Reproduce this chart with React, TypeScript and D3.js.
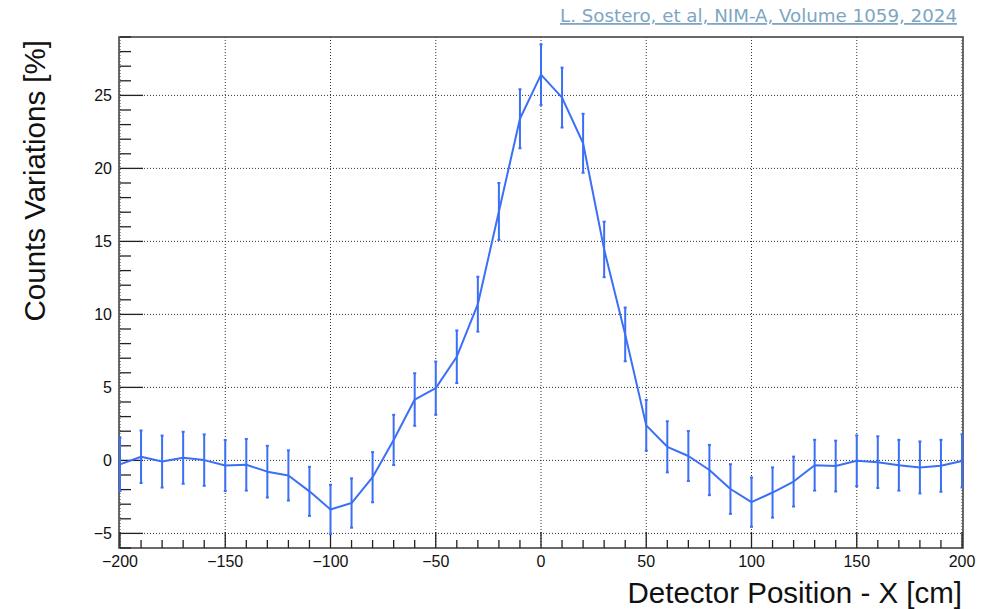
import React from "react";
import * as d3 from "d3";

// Detector position along X [cm]
const positions = [
  -200, -190, -180, -170, -160, -150, -140, -130, -120, -110, -100, -90, -80, -70, -60, -50, -40, -30, -20, -10,
  0, 10, 20, 30, 40, 50, 60, 70, 80, 90, 100, 110, 120, 130, 140, 150, 160, 170, 180, 190, 200,
];
// Counts variation [%]
const variations = [
  -0.27, 0.25, -0.08, 0.18, 0.02, -0.35, -0.3, -0.77, -1.03, -2.12, -3.36, -2.92, -1.15, 1.4, 4.17, 4.95, 7.1, 10.7, 17.05, 23.4,
  26.42, 24.85, 21.72, 14.45, 8.63, 2.4, 0.93, 0.3, -0.66, -1.96, -2.86, -2.2, -1.45, -0.33, -0.39, -0.03, -0.12, -0.33, -0.48, -0.37, -0.04,
];
// Uncertainty on each variation [%]
const errors = [
  1.83, 1.8, 1.78, 1.78, 1.76, 1.75, 1.77, 1.77, 1.72, 1.68, 1.69, 1.69, 1.72, 1.72, 1.8, 1.82, 1.8, 1.88, 1.95, 2.02,
  2.07, 2.05, 2.02, 1.9, 1.84, 1.74, 1.75, 1.71, 1.72, 1.7, 1.69, 1.72, 1.71, 1.74, 1.74, 1.74, 1.77, 1.74, 1.78, 1.78, 1.81,
];

const xMajorTicks = [-200, -150, -100, -50, 0, 50, 100, 150, 200];
const yMajorTicks = [-5, 0, 5, 10, 15, 20, 25];
const xDomain = [-200, 200];
const yDomain = [-6, 29];

const WIDTH = 992;
const HEIGHT = 609;
const frame = { left: 120, right: 962, top: 37, bottom: 548 };
const LINE_COLOR = "#3b6ff6";
const FONT = "'Liberation Sans', Arial, Helvetica, sans-serif";

export default function App() {
  const x = d3.scaleLinear().domain(xDomain).range([frame.left, frame.right]);
  const y = d3.scaleLinear().domain(yDomain).range([frame.bottom, frame.top]);

  const points = positions.map((p, i) => ({ p, v: variations[i], e: errors[i] }));
  const line = d3
    .line<{ p: number; v: number }>()
    .x((d) => x(d.p))
    .y((d) => y(d.v));

  const xMinor = d3.range(xDomain[0], xDomain[1] + 1, 10).filter((t) => t % 50 !== 0);
  const yMinor = d3.range(yDomain[0], yDomain[1] + 1, 1).filter((t) => t % 5 !== 0);

  return (
    <svg
      width={WIDTH}
      height={HEIGHT}
      style={{ position: "absolute", left: 0, top: 0, background: "#fff" }}
    >
      {/* citation */}
      <text
        x={957}
        y={22}
        textAnchor="end"
        fill="#7ea6c2"
        fontFamily="'DejaVu Sans Condensed', 'DejaVu Sans', sans-serif"
        fontSize={18}
        textDecoration="underline"
        textLength={397}
        lengthAdjust="spacingAndGlyphs"
      >
        L. Sostero, et al, NIM-A, Volume 1059, 2024
      </text>

      {/* grid */}
      <g stroke="#333" strokeWidth={1} strokeDasharray="1,2">
        {xMajorTicks.map((t) => (
          <line key={"gx" + t} x1={x(t)} x2={x(t)} y1={frame.top} y2={frame.bottom} />
        ))}
        {yMajorTicks.map((t) => (
          <line key={"gy" + t} x1={frame.left} x2={frame.right} y1={y(t)} y2={y(t)} />
        ))}
      </g>

      {/* frame */}
      <rect
        x={frame.left - 1}
        y={frame.top}
        width={frame.right - frame.left + 2}
        height={frame.bottom - frame.top}
        fill="none"
        stroke="#444"
        strokeWidth={1.6}
      />

      {/* y axis ticks */}
      <g stroke="#222" strokeWidth={1.3}>
        {yMajorTicks.map((t) => (
          <line key={"ymt" + t} x1={frame.left} x2={frame.left + 23} y1={y(t)} y2={y(t)} />
        ))}
        {yMinor.map((t) => (
          <line key={"ymn" + t} x1={frame.left} x2={frame.left + 11} y1={y(t)} y2={y(t)} />
        ))}
      </g>
      {/* x axis ticks */}
      <g stroke="#222" strokeWidth={1.3}>
        {xMajorTicks.map((t) => (
          <line key={"xmt" + t} x1={x(t)} x2={x(t)} y1={frame.bottom} y2={frame.bottom - 16} />
        ))}
        {xMinor.map((t) => (
          <line key={"xmn" + t} x1={x(t)} x2={x(t)} y1={frame.bottom} y2={frame.bottom - 8} />
        ))}
      </g>

      {/* tick labels */}
      <g fontFamily={FONT} fontSize={16} fill="#111">
        {yMajorTicks.map((t) => (
          <text key={"yl" + t} x={frame.left - 8} y={y(t)} dy="0.36em" textAnchor="end">
            {t < 0 ? "\u2212" + Math.abs(t) : t}
          </text>
        ))}
        {xMajorTicks.map((t) => (
          <text key={"xl" + t} x={x(t)} y={567} textAnchor="middle">
            {t < 0 ? "\u2212" + Math.abs(t) : t}
          </text>
        ))}
      </g>

      {/* axis titles */}
      <text
        x={frame.right}
        y={603}
        textAnchor="end"
        fontFamily={FONT}
        fontSize={29.5}
        fill="#111"
      >
        Detector Position - X [cm]
      </text>
      <text
        transform={`translate(45, ${frame.top + 3}) rotate(-90)`}
        textAnchor="end"
        fontFamily={FONT}
        fontSize={29.5}
        fill="#111"
      >
        Counts Variations [%]
      </text>

      {/* data: error bars and connecting line */}
      <g stroke={LINE_COLOR} strokeWidth={2} fill="none">
        {points.map((d) => (
          <g key={"eb" + d.p}>
            <line x1={x(d.p)} x2={x(d.p)} y1={y(d.v - d.e)} y2={y(d.v + d.e)} />
            <line x1={x(d.p) - 1.5} x2={x(d.p) + 1.5} y1={y(d.v - d.e)} y2={y(d.v - d.e)} />
            <line x1={x(d.p) - 1.5} x2={x(d.p) + 1.5} y1={y(d.v + d.e)} y2={y(d.v + d.e)} />
          </g>
        ))}
        <path d={line(points) ?? ""} strokeLinejoin="round" />
      </g>
    </svg>
  );
}
